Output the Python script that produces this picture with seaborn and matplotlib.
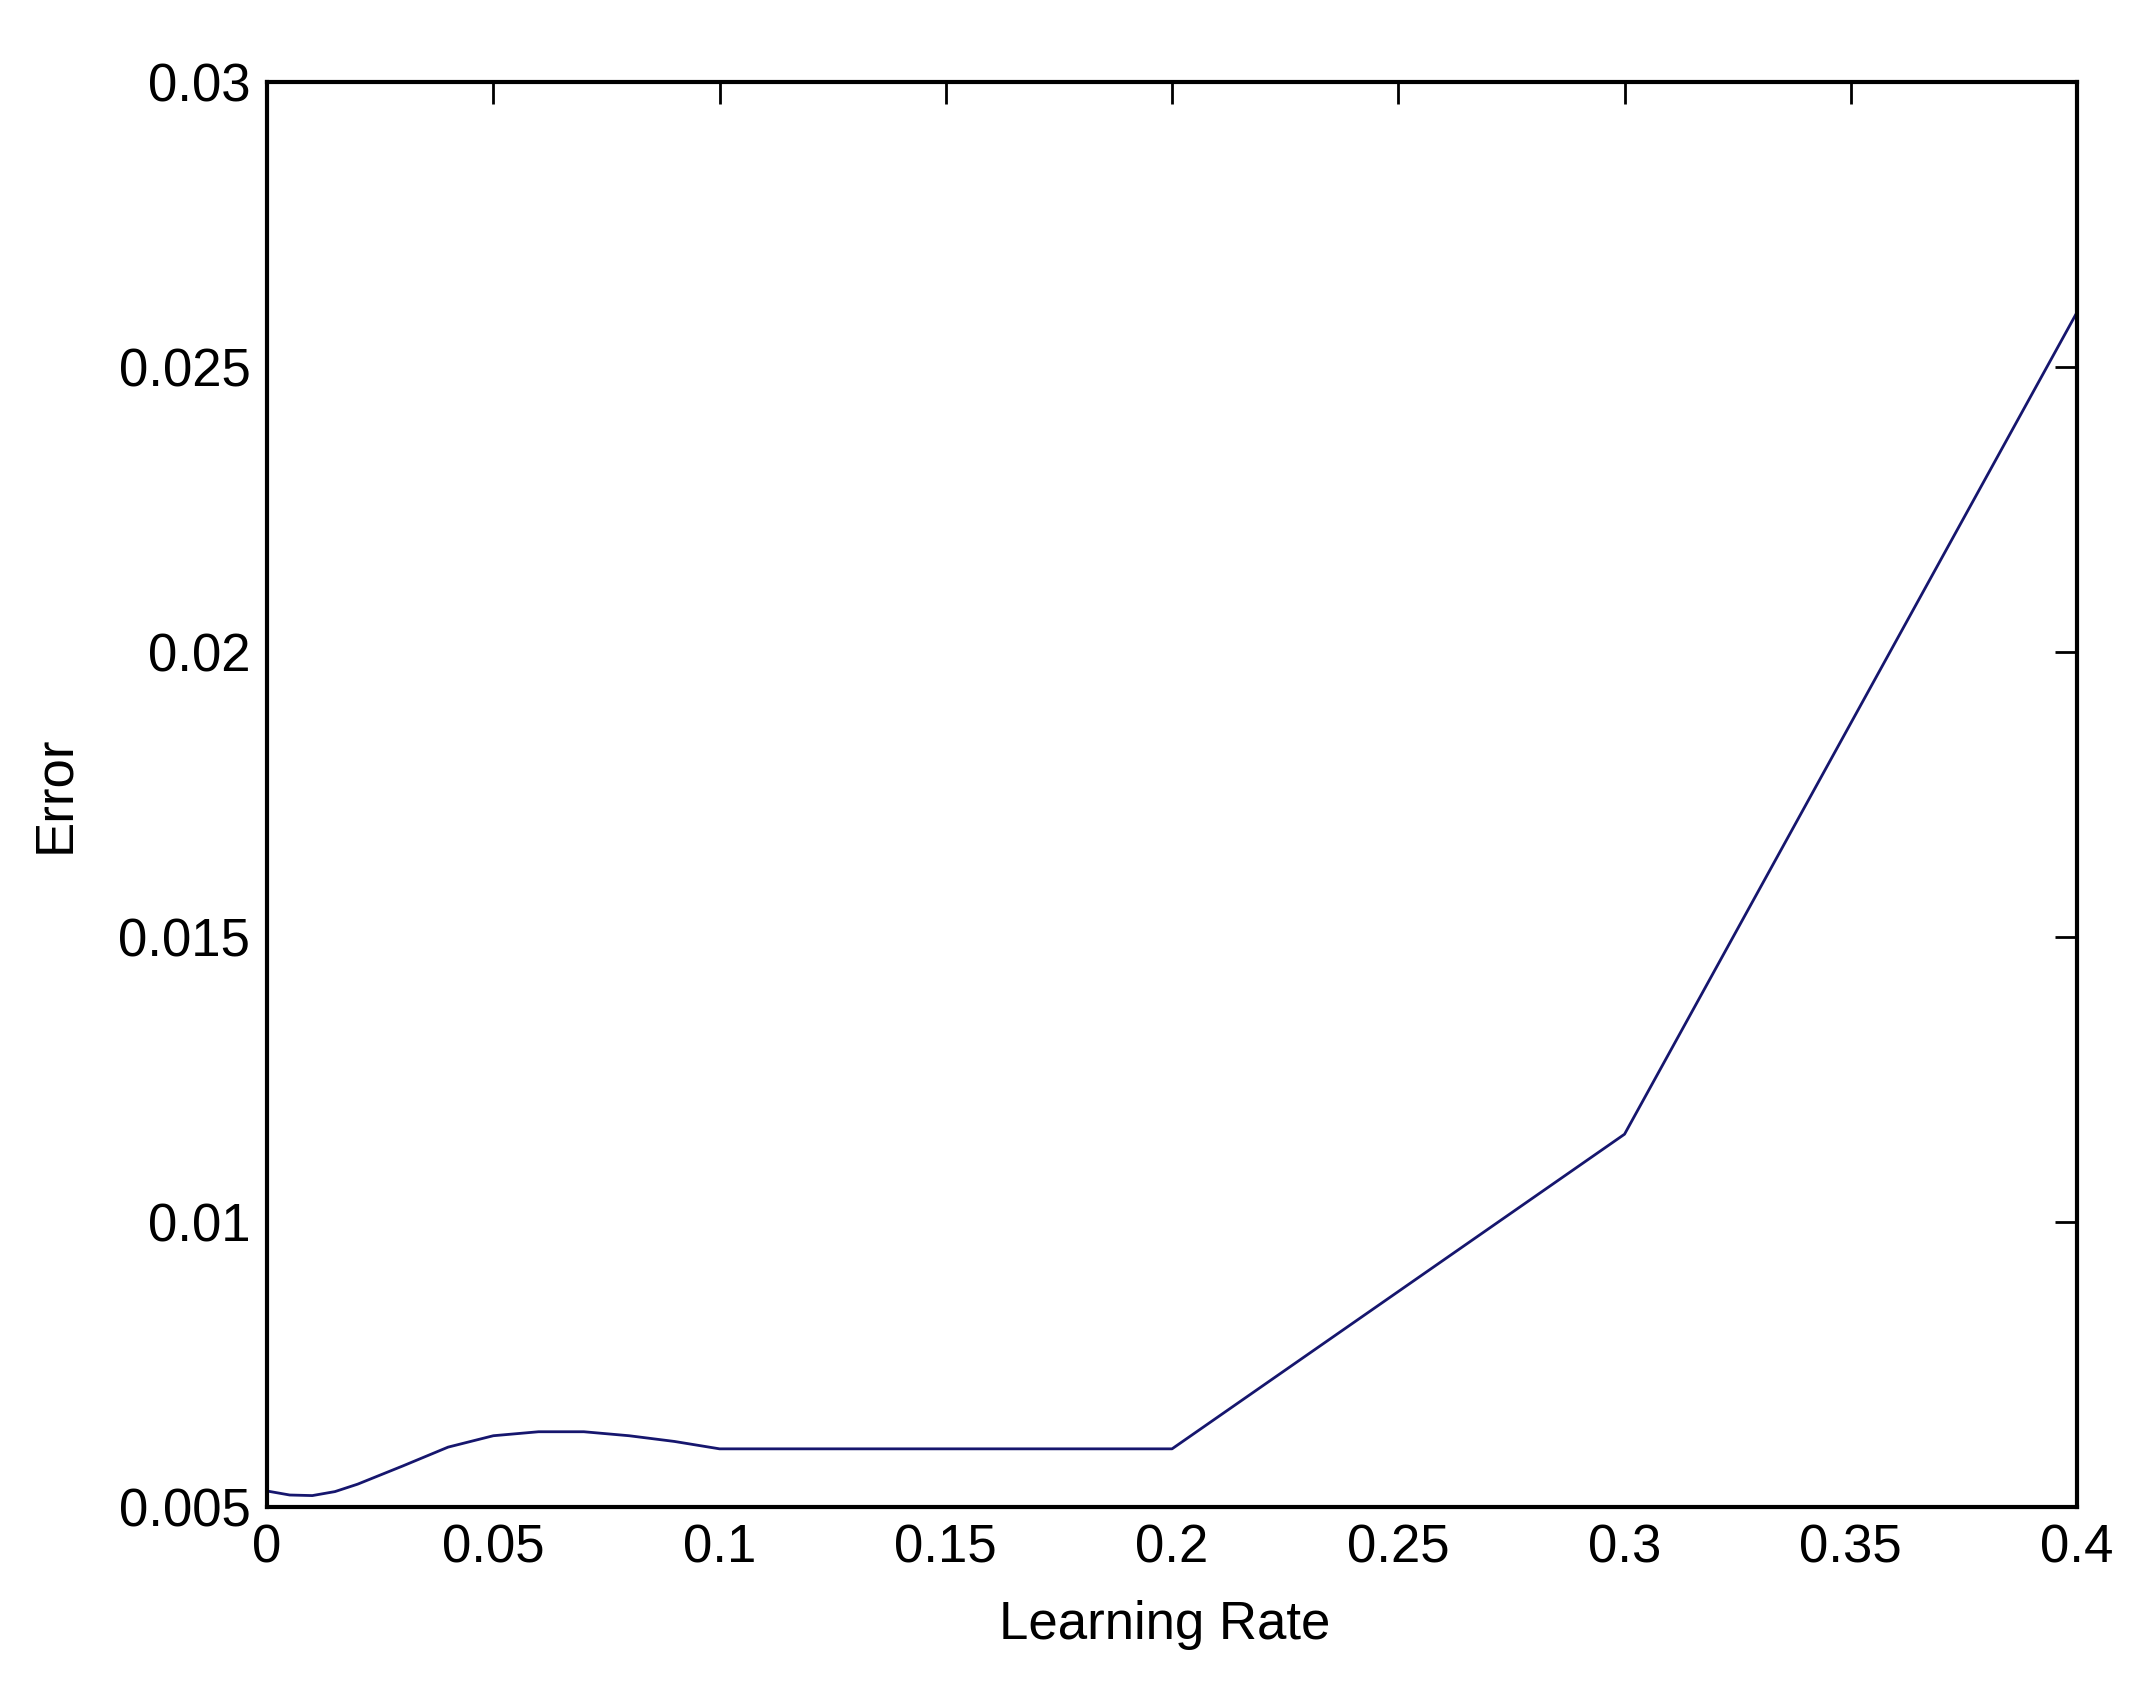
import matplotlib
matplotlib.use("Agg")
import matplotlib.pyplot as plt
import seaborn as sns
import pandas as pd

learning_rate = [0.0, 0.005, 0.01, 0.015, 0.02, 0.03, 0.04, 0.05, 0.06, 0.07, 0.08, 0.09, 0.1, 0.2, 0.3, 0.4]
error = [0.00528, 0.00521, 0.0052, 0.00527, 0.0054, 0.00572, 0.00605, 0.00625, 0.00632, 0.00632, 0.00625, 0.00615, 0.00602, 0.00602, 0.01154, 0.02596]
x_ticks = [0, 0.05, 0.1, 0.15, 0.2, 0.25, 0.3, 0.35, 0.4]
x_tick_labels = ["0", "0.05", "0.1", "0.15", "0.2", "0.25", "0.3", "0.35", "0.4"]
y_ticks = [0.005, 0.01, 0.015, 0.02, 0.025, 0.03]
y_tick_labels = ["0.005", "0.01", "0.015", "0.02", "0.025", "0.03"]

df = pd.DataFrame({"Learning Rate": learning_rate, "Error": error})

sns.set_style("white")
plt.rcParams["font.family"] = ["Liberation Sans", "DejaVu Sans"]

fig = plt.figure(figsize=(21.47, 16.94), dpi=100)
ax = fig.add_axes([0.1244, 0.1104, 0.9674 - 0.1244, 0.9516 - 0.1104])

sns.lineplot(data=df, x="Learning Rate", y="Error", ax=ax, color="#16166e", linewidth=2.0)

ax.set_xlim(0, 0.4)
ax.set_ylim(0.005, 0.03)
ax.set_xticks(x_ticks)
ax.set_xticklabels(x_tick_labels)
ax.set_yticks(y_ticks)
ax.set_yticklabels(y_tick_labels)

for s in ax.spines.values():
    s.set_visible(True)
    s.set_color("black")
    s.set_linewidth(3)

ax.tick_params(axis="both", which="major", direction="in", length=16, width=2,
               labelsize=38, colors="black", top=True, right=True, pad=12)

ax.set_xlabel("Learning Rate", fontsize=38, va="center", color="black")
ax.set_ylabel("Error", fontsize=38, va="center", color="black")
ax.xaxis.set_label_coords(0.496, -0.083)
ax.yaxis.set_label_coords(-0.117, 0.5)

fig.savefig("out.png", dpi=100, facecolor="white")
